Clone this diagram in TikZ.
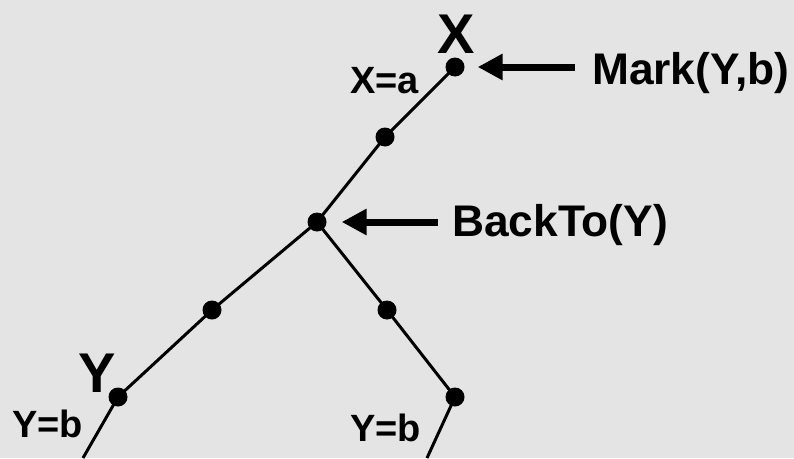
\documentclass[tikz,border=0pt]{standalone}
\usepackage{fontspec}
\setmainfont{Liberation Sans}
\usetikzlibrary{arrows.meta}
\definecolor{bg}{RGB}{228,228,228}
\tikzset{
  dot/.style={circle,fill=black,inner sep=0pt,minimum size=19pt},
  edge/.style={line width=3pt,black},
  bigarrow/.style={line width=7pt,-{Triangle[length=25pt,width=25pt]}},
  small/.style={font=\bfseries\fontsize{38}{38}\selectfont,inner sep=0pt},
  big/.style={font=\bfseries\fontsize{56}{56}\selectfont,inner sep=0pt},
  callout/.style={font=\bfseries\fontsize{44.3}{44.3}\selectfont,inner sep=0pt}
}
\begin{document}
\begin{tikzpicture}[x=1pt,y=-1pt]
\fill[bg] (0,0) rectangle (794,458);
\useasboundingbox (0,0) rectangle (794,458);
% nodes
\node[dot] (nx) at (455,67) {};
\node[dot] (n2) at (385,137) {};
\node[dot] (nb) at (317,222) {};
\node[dot] (nl) at (212,310) {};
\node[dot] (ny) at (118,397) {};
\node[dot] (nr) at (387,310) {};
\node[dot] (nrb) at (455,397) {};
\coordinate (endl) at (83,458);
\coordinate (endr) at (427,458);
% edges
\draw[edge] (nx.center) -- (n2.center) -- (nb.center) -- (nl.center) -- (ny.center) -- (endl);
\draw[edge] (nb.center) -- (nr.center) -- (nrb.center) -- (endr);
% labels
\node[big,anchor=base] (lx) at (456,53) {X};
\node[big,anchor=base] (ly) at (97,392) {Y};
\node[small,anchor=base west] (lxa) at (350,93) {X=a};
\node[small,anchor=base west] (lyb1) at (12,437) {Y=b};
\node[small,anchor=base west] (lyb2) at (350,441) {Y=b};
\node[callout,anchor=base west] (mark) at (592,84) {Mark(Y,b)};
\node[callout,anchor=base west] (back) at (452,236) {BackTo(Y)};
% arrows
\coordinate (ma) at (575,67);
\coordinate (ba) at (438,222);
\draw[bigarrow,shorten >=13pt] (ma) -- (nx);
\draw[bigarrow,shorten >=15pt] (ba) -- (nb);
\end{tikzpicture}
\end{document}
